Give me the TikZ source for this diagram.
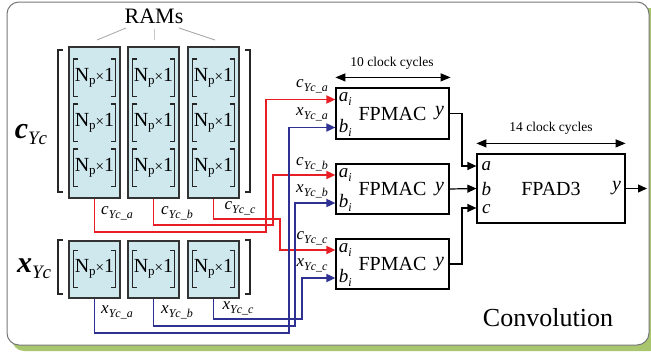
\documentclass[tikz,border=0pt]{standalone}
\usepackage{fontspec}
\setmainfont{Liberation Serif}
\usetikzlibrary{arrows.meta,calc}

\definecolor{sigred}{RGB}{232,30,37}
\definecolor{sigblue}{RGB}{46,49,146}
\definecolor{ramfill}{RGB}{206,232,238}
\definecolor{shadowgreen}{RGB}{168,198,110}
\definecolor{framegray}{RGB}{120,120,120}

\newcommand\fs[1]{\fontsize{#1}{#1}\selectfont}
% signal name with lowered subscript, e.g. c_{Yc_a}
\newcommand\sig[2]{{\fs{17}\itshape #1}\raisebox{-4pt}{\fs{12}\itshape Yc\_#2}}
% port name with subscript, e.g. a_i
\newcommand\port[2]{{\fs{19}\itshape #1}\raisebox{-4pt}{\fs{12}\itshape #2}}
% one N_p x 1 memory cell
\newcommand\npcell{{\fs{20}N\raisebox{-3pt}{\fs{13}p}{\fs{15}×}1}}

\begin{document}
\begin{tikzpicture}[x=1pt,y=-1pt,
  ram/.style={draw=black!80, line width=1.6pt, fill=ramfill, minimum width=51pt, inner sep=0pt},
  cell/.style={minimum width=42pt, minimum height=37pt, inner sep=0pt},
  unit/.style={draw, line width=1.2pt, inner sep=0pt, fill=white},
  lbl/.style={inner sep=0pt},
  redw/.style={sigred, line width=1.7pt},
  bluew/.style={sigblue, line width=1.7pt},
  tip/.style={-{Triangle[length=9pt,width=8pt]}},
  blk/.style={line width=1.2pt},
  brk/.style={line width=1.4pt, black!85},
  bigbrk/.style={line width=1.8pt, black!85},
  lead/.style={gray!70, line width=0.8pt}]

\useasboundingbox (0,0) rectangle (651,356);

% panel with green drop shadow
\fill[shadowgreen, rounded corners=12pt] (12,8) rectangle (662,351);
\draw[framegray, line width=1pt, fill=white, rounded corners=12pt] (7,2) rectangle (649,345);

% RAM columns and their cells
\foreach \n/\x in {a/94.5,b/153.5,c/213.5} {
  \node[ram, minimum height=151pt] (c\n) at (\x,122.5) {};
  \node[ram, minimum height=57pt] (x\n) at (\x,269.5) {};
  \foreach \r/\y in {1/77.5,2/122.5,3/167.5}
    \node[cell] (c\n\r) at (\x,\y) {\npcell};
  \node[cell] (x\n1) at (\x,269) {\npcell};
}
\foreach \c in {ca1,ca2,ca3,cb1,cb2,cb3,cc1,cc2,cc3,xa1,xb1,xc1} {
  \draw[brk] ([xshift=5pt]\c.north west) -| (\c.south west) -- ++(5,0);
  \draw[brk] ([xshift=-5pt]\c.north east) -| (\c.south east) -- ++(-5,0);
}

% group brackets and vector names
\draw[bigbrk] (63,50) -| (58,192) -- (63,192);
\draw[bigbrk] (245,50) -| (250,192) -- (245,192);
\draw[bigbrk] (63,240) -| (58,294) -- (63,294);
\draw[bigbrk] (245,240) -| (250,294) -- (245,294);
\node (clab) at (31,135) {{\fs{30}\bfseries\itshape c}\raisebox{-6pt}{\fs{19}\itshape Yc}};
\node (xlab) at (34,269) {{\fs{30}\bfseries\itshape x}\raisebox{-6pt}{\fs{19}\itshape Yc}};

% RAMs caption with leader lines
\node[font=\fs{22}] (rams) at (154,16) {RAMs};
\coordinate (l1a) at (126,28); \coordinate (l1b) at (97,40);
\coordinate (l2a) at (154,29); \coordinate (l2b) at (154,40);
\coordinate (l3a) at (179,28); \coordinate (l3b) at (215,40);
\draw[lead] (l1a) -- (l1b);
\draw[lead, gray!45] (l2a) -- (l2b);
\draw[lead] (l3a) -- (l3b);

% multiply-accumulate units
\node[unit, minimum width=113pt, minimum height=51pt, font=\fs{20}] (m1) at (392.5,113.5) {FPMAC};
\node[unit, minimum width=113pt, minimum height=50pt, font=\fs{20}] (m2) at (392.5,189) {FPMAC};
\node[unit, minimum width=113pt, minimum height=50pt, font=\fs{20}] (m3) at (392.5,264) {FPMAC};
\foreach \m in {m1,m2,m3} {
  \coordinate (\m a) at ([yshift=14pt]\m.west);
  \coordinate (\m b) at ([yshift=-14pt]\m.west);
  \node[lbl] at ([xshift=10pt,yshift=14pt]\m.west) {\port{a}{i}};
  \node[lbl] at ([xshift=10pt,yshift=-14pt]\m.west) {\port{b}{i}};
  \node[lbl] at ([xshift=-10pt]\m.east) {\fs{20}\itshape y};
}

% three-input adder
\node[unit, minimum width=148pt, minimum height=69pt, font=\fs{20}] (ad) at (551,188.5) {FPAD3};
\coordinate (ada) at ([yshift=22.5pt]ad.west);
\coordinate (adb) at (ad.west);
\coordinate (adc) at ([yshift=-19.5pt]ad.west);
\node[lbl] at ([xshift=10pt,yshift=22.5pt]ad.west) {\fs{19}\itshape a};
\node[lbl] at ([xshift=10pt]ad.west) {\fs{19}\itshape b};
\node[lbl] at ([xshift=10pt,yshift=-21pt]ad.west) {\fs{19}\itshape c};
\node[lbl] at ([xshift=-9pt]ad.east) {\fs{20}\itshape y};
\coordinate (out) at (647,188.5);
\draw[blk, tip] (ad.east) -- (out);

% latency markers
\coordinate (k1l) at ([yshift=10pt]m1.north west);
\coordinate (k1r) at ([yshift=10pt,xshift=1pt]m1.north east);
\draw[blk, {Triangle[length=10pt,width=8pt]}-{Triangle[length=10pt,width=8pt]}] (k1l) -- (k1r);
\node[font=\fs{13.5}] (k1t) at (392,63) {10 clock cycles};
\coordinate (k2l) at ([yshift=10pt]ad.north west);
\coordinate (k2r) at ([yshift=10pt]ad.north east);
\draw[blk, {Triangle[length=10pt,width=8pt]}-{Triangle[length=10pt,width=8pt]}] (k2l) -- (k2r);
\node[font=\fs{13.5}] (k2t) at (551,128) {14 clock cycles};

% coefficient routes (red)
\coordinate (ra) at (266,232);
\coordinate (rb) at (273,225);
\coordinate (rc) at (280,219);
\draw[redw, tip] (ca.south) |- (ra) |- (m1a);
\draw[redw, tip] (cb.south) |- (rb) |- (m2a);
\draw[redw, tip] (cc.south) |- (rc) |- (m3a);

% data routes (blue)
\coordinate (ba) at (289,333);
\coordinate (bb) at (295,326);
\coordinate (bc) at (302,319);
\draw[bluew, tip] (xa.south) |- (ba) |- (m1b);
\draw[bluew, tip] (xb.south) |- (bb) |- (m2b);
\draw[bluew, tip] (xc.south) |- (bc) |- (m3b);

% partial sums into the adder
\coordinate (ja) at (462,166);
\coordinate (jc) at (462,208);
\draw[blk, tip] (m1.east) -| (ja) -- (ada);
\draw[blk, tip] (m2.east) -- (adb);
\draw[blk, tip] (m3.east) -| (jc) -- (adc);

% signal names
\node[lbl] at (117,213) {\sig{c}{a}};
\node[lbl] at (177,213) {\sig{c}{b}};
\node[lbl] at (240,208) {\sig{c}{c}};
\node[lbl] at (117,312) {\sig{x}{a}};
\node[lbl] at (177,312) {\sig{x}{b}};
\node[lbl] at (238,308) {\sig{x}{c}};
\node[lbl] at (312,86) {\sig{c}{a}};
\node[lbl] at (312,114) {\sig{x}{a}};
\node[lbl] at (312,164) {\sig{c}{b}};
\node[lbl] at (312,191) {\sig{x}{b}};
\node[lbl] at (312,238) {\sig{c}{c}};
\node[lbl] at (312,265) {\sig{x}{c}};

\node[font=\fs{26}] (conv) at (548,318) {Convolution};
\end{tikzpicture}
\end{document}
